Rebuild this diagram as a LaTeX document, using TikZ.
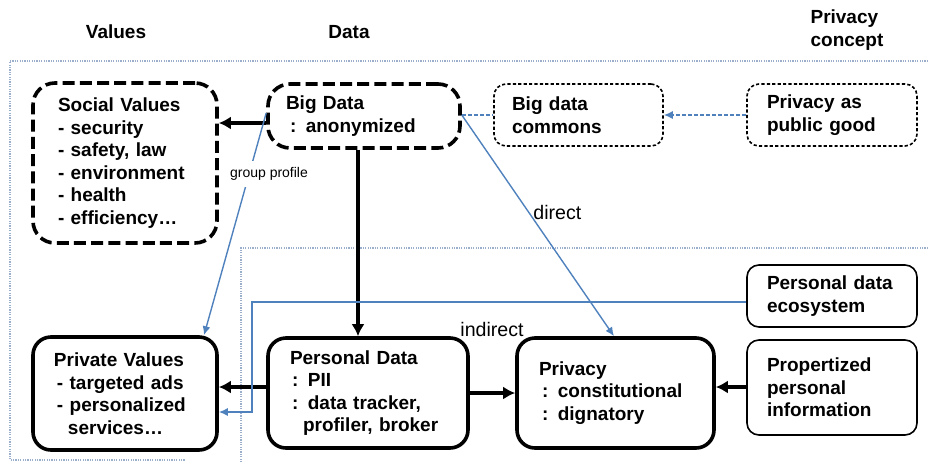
\documentclass[tikz,border=0pt]{standalone}
\usepackage{fontspec}
\setmainfont{Liberation Sans}
\usetikzlibrary{arrows.meta}

\definecolor{linkblue}{RGB}{79,129,189}
\definecolor{framegray}{RGB}{155,175,205}

\begin{document}
\begin{tikzpicture}[x=0.5pt, y=-0.5pt,
  font=\fontsize{9.5}{11.25}\selectfont\bfseries,
  thickbox/.style={draw, rounded corners=9pt, line width=1.8pt, align=left, inner ysep=0pt},
  dashbox/.style={thickbox, rounded corners=11pt, dash pattern=on 6pt off 2.6pt},
  thinbox/.style={draw, rounded corners=6pt, line width=0.8pt, align=left, inner ysep=0pt},
  thindash/.style={thinbox, dash pattern=on 1.6pt off 1.1pt},
  heavy/.style={line width=1.8pt, -{Latex[length=6pt, width=6.5pt]}},
  link/.style={linkblue, line width=0.7pt},
  linkarrow/.style={link, -{Latex[length=4.5pt, width=4pt]}},
  note/.style={font=\fontsize{9.8}{11}\selectfont, text=black, inner sep=1pt},
  frame/.style={framegray, line width=0.7pt, dash pattern=on 0.6pt off 0.6pt},
]
\useasboundingbox (0,0) rectangle (928,462);

% dotted frames
\draw[frame] (928,61) -- (10,61) -- (10,460) -- (185,460);
\draw[frame] (928,248) -- (241,248) -- (241,462);

% column heads
\node (values) at (116,32) {Values};
\node (data) at (349,32) {Data};
\node[align=left] (concept) at (847,30) {Privacy\\concept};

% boxes
\node[dashbox, text width=67pt, inner xsep=12.5pt, minimum height=80pt] (social) at (125,163)
  {Social Values\\- security\\- safety, law\\- environment\\- health\\- efficiency…};
\node[dashbox, text width=78pt, inner xsep=9pt, minimum height=32pt] (bigdata) at (364,116)
  {Big Data\\\hspace*{2pt}: anonymized};
\node[thindash, text width=66.5pt, inner xsep=9pt, minimum height=31pt] (commons) at (578.5,115)
  {Big data\\commons};
\node[thindash, text width=65pt, inner xsep=10pt, minimum height=31pt] (pubgood) at (832,115)
  {Privacy as\\public good};
\node[thinbox, text width=65pt, inner xsep=10pt, minimum height=31pt] (ecosys) at (832,296)
  {Personal data\\ecosystem};
\node[thinbox, text width=65pt, inner xsep=10pt, minimum height=47.5pt] (propinfo) at (832,387.5)
  {Propertized\\personal\\information};
\node[thickbox, text width=76.5pt, inner xsep=11pt, minimum height=55pt] (privacy) at (615.5,393)
  {Privacy\\\hspace*{1.5pt}: constitutional\\\hspace*{1.5pt}: dignatory};
\node[thickbox, text width=78pt, inner xsep=11pt, minimum height=55pt] (personal) at (368,393)
  {Personal Data\\\hspace*{1pt}: PII\\\hspace*{1pt}: data tracker,\\\hspace*{6.5pt}profiler, broker};
\node[thickbox, text width=71pt, inner xsep=10.5pt, minimum height=56.5pt] (private) at (125,393.5)
  {Private Values\\\hspace*{1.5pt}- targeted ads\\\hspace*{1.5pt}- personalized\\\hspace*{7pt}services…};

% black flows
\draw[heavy] (bigdata.west |- 0,123) -- (social.east |- 0,123);
\draw[heavy] (bigdata.south -| 358,0) -- (personal.north -| 358,0);
\draw[heavy] (personal.west |- 0,387) -- (private.east |- 0,387);
\draw[heavy] (personal.east |- 0,393) -- (privacy.west |- 0,393);
\draw[heavy] (propinfo.west |- 0,387) -- (privacy.east |- 0,387);

% blue links
\draw[link, dash pattern=on 2pt off 1pt] (bigdata.east |- 0,115) -- (commons.west);
\draw[linkarrow, dash pattern=on 2pt off 1pt] (pubgood.west) -- (commons.east);
\draw[linkarrow] (bigdata.west |- 0,113) -- (private.north -| 204,0);
\node[font=\fontsize{7}{8}\selectfont, fill=white, inner sep=3pt] (gprofile) at (269,174) {group profile};
\draw[linkarrow] (bigdata.east |- 0,115) -- node[note, pos=0.44, right=1pt] (direct) {direct} (privacy.north -| 614,0);
\draw[linkarrow] (ecosys.west |- 0,302) -| (252,412) -- (private.east |- 0,412);
\node[note] (indirect) at (492,329) {indirect};
\end{tikzpicture}
\end{document}
